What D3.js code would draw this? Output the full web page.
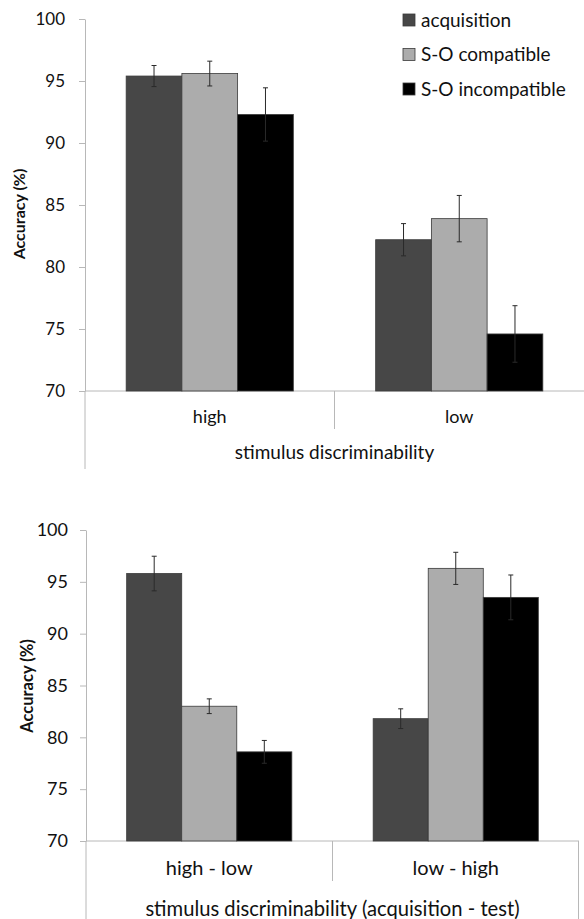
<!DOCTYPE html>
<html>
<head>
<meta charset="utf-8">
<script src="https://cdn.jsdelivr.net/npm/d3@7"></script>
<style>
  body { margin: 0; background: #fff; }
  text { font-family: Lato, "Open Sans", sans-serif; fill: #111; }
</style>
</head>
<body>
<div id="chart"></div>
<script>
// series shared by both panels
var series = ['acquisition', 'S-O compatible', 'S-O incompatible'];
var seriesColors = ['#474747', '#acacac', '#000000'];

// panel 1: stimulus discriminability
var topCategories = ['high', 'low'];
var topMeans = [[95.4, 95.6, 92.3], [82.2, 83.9, 74.6]];
var topErrors = [[0.85, 1.0, 2.15], [1.3, 1.87, 2.28]];

// panel 2: acquisition - test
var bottomCategories = ['high - low', 'low - high'];
var bottomMeans = [[95.8, 83.0, 78.6], [81.8, 96.3, 93.5]];
var bottomErrors = [[1.67, 0.71, 1.1], [0.95, 1.55, 2.16]];

var yTicks = [70, 75, 80, 85, 90, 95, 100];
var yTitle = 'Accuracy (%)';
var topXTitle = 'stimulus discriminability';
var bottomXTitle = 'stimulus discriminability (acquisition - test)';

var svg = d3.select('#chart').append('svg').attr('width', 584).attr('height', 919);

drawPanel({
	cats: topCategories, means: topMeans, errs: topErrors, xTitle: topXTitle,
	left: 85, right: 584, yHigh: 19, yLow: 391,
	tickFont: 17, tickPad: 14, catFont: 18, titleFont: 19, yTitleFont: 16,
	catY: 423, titleY: 459, axisBottom: 469, sepBottom: 429, box: false,
	yTitleX: 19, yTitleY: 214
});

drawPanel({
	cats: bottomCategories, means: bottomMeans, errs: bottomErrors, xTitle: bottomXTitle,
	left: 86, right: 579, yHigh: 530, yLow: 841,
	tickFont: 18, tickPad: 12, catFont: 20, titleFont: 20.2, yTitleFont: 16.5,
	catY: 875, titleY: 916, axisBottom: 919, sepBottom: 881, box: true,
	yTitleX: 27, yTitleY: 686
});

drawLegend();

function drawPanel(p){
	var g = svg.append('g');

	var y = d3.scaleLinear().domain([70, 100]).range([p.yLow, p.yHigh]);
	var x0 = d3.scaleBand().domain(p.cats).range([p.left, p.right]);
	var bw = x0.bandwidth();
	var x1 = d3.scaleBand().domain(series).range([bw * 0.165, bw * 0.835]);

	// y axis
	var yAxis = g.append('g').attr('transform', 'translate(' + p.left + ',0)')
		.call(d3.axisLeft(y).tickValues(yTicks).tickSize(6).tickSizeOuter(0).tickPadding(p.tickPad));
	yAxis.select('.domain').attr('stroke', '#b8b8b8');
	yAxis.selectAll('.tick line').attr('stroke', '#b8b8b8');
	yAxis.selectAll('.tick text').style('font-size', p.tickFont + 'px').attr('fill', '#111');

	// lines of the category table
	g.append('line').attr('x1', p.left).attr('x2', p.left)
		.attr('y1', p.yLow).attr('y2', p.axisBottom).attr('stroke', '#b8b8b8');
	g.append('line').attr('x1', p.left).attr('x2', p.right)
		.attr('y1', p.yLow).attr('y2', p.yLow).attr('stroke', '#b8b8b8');
	g.append('line').attr('x1', p.left + bw).attr('x2', p.left + bw)
		.attr('y1', p.yLow).attr('y2', p.sepBottom).attr('stroke', '#b8b8b8');
	if (p.box) {
		g.append('line').attr('x1', p.right - 0.5).attr('x2', p.right - 0.5)
			.attr('y1', p.yLow).attr('y2', p.axisBottom).attr('stroke', '#b8b8b8');
	}

	// bars
	var groups = g.selectAll('g.grp').data(p.cats).enter().append('g')
		.attr('class', 'grp')
		.attr('transform', function(d){ return 'translate(' + x0(d) + ',0)'; });

	var rows = groups.selectAll('g.bar').data(function(d, i){
		return series.map(function(s, j){
			return { s: s, v: p.means[i][j], e: p.errs[i][j], c: seriesColors[j] };
		});
	}).enter().append('g').attr('class', 'bar');

	rows.append('rect')
		.attr('x', function(d){ return x1(d.s); })
		.attr('y', function(d){ return y(d.v); })
		.attr('width', x1.bandwidth())
		.attr('height', function(d){ return y(70) - y(d.v); })
		.attr('fill', function(d){ return d.c; })
		.attr('stroke', '#3a3a3a').attr('stroke-width', 0.8);

	// error bars
	var cx = function(d){ return x1(d.s) + x1.bandwidth() / 2; };
	rows.append('line')
		.attr('x1', cx).attr('x2', cx)
		.attr('y1', function(d){ return y(d.v + d.e); })
		.attr('y2', function(d){ return y(d.v - d.e); })
		.attr('stroke', '#2a2a2a').attr('stroke-width', 1);
	[1, -1].forEach(function(sign){
		rows.append('line')
			.attr('x1', function(d){ return cx(d) - 2.5; })
			.attr('x2', function(d){ return cx(d) + 2.5; })
			.attr('y1', function(d){ return y(d.v + sign * d.e); })
			.attr('y2', function(d){ return y(d.v + sign * d.e); })
			.attr('stroke', '#2a2a2a').attr('stroke-width', 1);
	});

	// category labels and titles
	g.selectAll('text.cat').data(p.cats).enter().append('text')
		.attr('class', 'cat')
		.attr('x', function(d){ return x0(d) + bw / 2; })
		.attr('y', p.catY)
		.attr('text-anchor', 'middle')
		.style('font-size', p.catFont + 'px')
		.text(function(d){ return d; });

	g.append('text')
		.attr('x', (p.left + p.right) / 2)
		.attr('y', p.titleY)
		.attr('text-anchor', 'middle')
		.style('font-size', p.titleFont + 'px')
		.text(p.xTitle);

	g.append('text')
		.attr('transform', 'translate(' + p.yTitleX + ',' + p.yTitleY + ') rotate(-90)')
		.attr('text-anchor', 'middle')
		.attr('dy', '0.35em')
		.style('font-size', p.yTitleFont + 'px')
		.style('font-weight', 'bold')
		.text(yTitle);
}

function drawLegend(){
	var legend = svg.append('g').attr('transform', 'translate(403,0)');
	var item = legend.selectAll('g').data(series).enter().append('g')
		.attr('transform', function(d, i){ return 'translate(0,' + (20 + i * 34.5) + ')'; });
	item.append('rect')
		.attr('x', 0).attr('y', -6).attr('width', 12).attr('height', 12)
		.attr('fill', function(d, i){ return seriesColors[i]; })
		.attr('stroke', '#3a3a3a').attr('stroke-width', 0.8);
	item.append('text')
		.attr('x', 18).attr('dy', '0.35em')
		.style('font-size', '19px')
		.text(function(d){ return d; });
}
</script>
</body>
</html>
